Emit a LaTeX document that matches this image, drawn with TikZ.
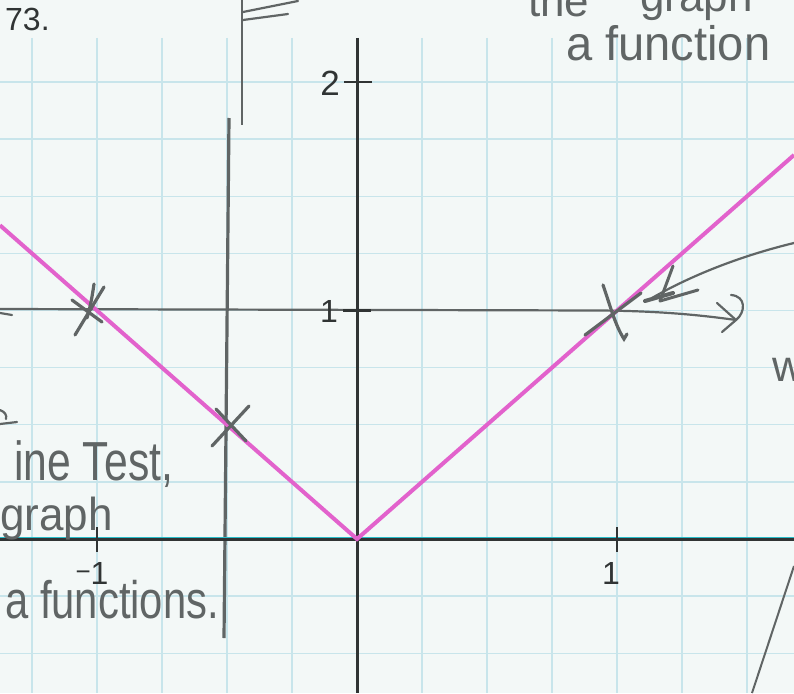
\documentclass[tikz,border=0pt]{standalone}
\usepackage{fontspec}
\setmainfont{Liberation Sans}
\usetikzlibrary{arrows.meta}
\definecolor{paper}{RGB}{243,248,247}
\definecolor{gridc}{RGB}{200,229,235}
\definecolor{pencil}{RGB}{96,101,101}
\definecolor{ink}{RGB}{48,52,52}
\definecolor{pinkc}{RGB}{226,98,204}
\definecolor{cyanl}{RGB}{40,188,200}
\begin{document}
\begin{tikzpicture}[x=1pt,y=-1pt,
  gridline/.style={gridc, line width=1.4pt},
  axisline/.style={ink, line width=3pt},
  tickline/.style={ink, line width=2.6pt},
  pencilline/.style={pencil, line width=2.2pt, line cap=round, line join=round},
  xmark/.style={pencil, line width=3.2pt, line cap=round},
  graphline/.style={pinkc, line width=4pt, line join=miter},
  axlabel/.style={ink, inner sep=0pt, font=\fontsize{35}{40}\selectfont},
  handw/.style={pencil, inner sep=0pt, font=\fontsize{44}{50}\selectfont}]
\useasboundingbox (0,0) rectangle (794,693);
\clip (0,0) rectangle (794,693);
\fill[paper] (0,0) rectangle (794,693);
% grid
\foreach \gx in {32,97,...,760} \draw[gridline] (\gx,38) -- (\gx,693);
\foreach \k in {0,...,10} \draw[gridline] (0,82+57.125*\k) -- (794,82+57.125*\k);
% pencil horizontal line y = 1 with arrow
\coordinate (hlS) at (0,309);
\coordinate (hlM) at (600,310.5);
\coordinate (hlE) at (736,320);
\draw[pencilline] (hlS) -- (hlM) .. controls (660,311) and (700,315) .. (hlE);
\draw[pencilline] (717,303) -- (hlE) .. controls (746,312) and (746,296) .. (731,295);
\draw[pencilline] (722,332) -- (hlE);
\draw[pencilline] (0,313) -- (12,315);
% arrow from the right edge to (1,1)
\coordinate (arS) at (794,243);
\coordinate (arE) at (652,298);
\draw[pencilline] (arS) .. controls (740,256) and (690,276) .. (arE);
\draw[pencil, line width=4pt, line cap=round] (645,301) -- (673,293);
\draw[pencilline, line width=3pt] (673,266) -- (660,301) -- (698,290);
% vertical line test line and flag line
\coordinate (vtT) at (229,118);
\coordinate (vtB) at (224,638);
\draw[pencil, line width=3.2pt] (vtT) -- (vtB);
\coordinate (flT) at (242,0);
\coordinate (flB) at (242,125);
\draw[pencil, line width=2.2pt] (flT) -- (flB);
\draw[pencilline] (243,12) -- (298,1);
\draw[pencilline] (243,20) -- (288,14);
% bottom-right stroke
\coordinate (brT) at (794,566);
\coordinate (brB) at (752,693);
\draw[pencil, line width=2pt] (brT) -- (brB);
% left-edge stroke
\draw[pencilline] (0,424) -- (17,422);
\draw[pencilline] (0,410) .. controls (5,412) and (7,415) .. (6,419);
% axes
\coordinate (xaL) at (0,539);
\coordinate (xaR) at (794,539);
\draw[axisline] (xaL) -- (xaR);
\draw[cyanl, line width=1.2pt] (0,537.2) -- (794,537.2);
\coordinate (yaT) at (357,38);
\coordinate (yaB) at (357,693);
\draw[axisline] (yaT) -- (yaB);
% ticks
\draw[tickline] (344,82) -- (372,82);
\draw[tickline] (343,310.5) -- (371,310.5);
\draw[tickline] (617,527) -- (617,552);
\draw[tickline] (97,527) -- (97,552);
% tick labels
\node[axlabel] (l2) at (330,83) {2};
\node[axlabel, font=\fontsize{32}{36}\selectfont] (l1y) at (329,311.5) {1};
\node[axlabel, font=\fontsize{32}{36}\selectfont] (l1x) at (611,573) {1};
\node[axlabel, font=\fontsize{32}{36}\selectfont] (lm1) at (92,573) {\raisebox{0.22ex}{\fontsize{26}{30}\selectfont −}1};
% graph y = |x|
\coordinate (gL) at (0,225.3);
\coordinate (gV) at (357,539);
\coordinate (gR) at (794,155);
\draw[graphline] (gL) -- (gV) -- (gR);
% X marks
\draw[xmark] (72,300) -- (102,322);
\draw[xmark] (104,287) -- (75,335);
\draw[xmark] (94,284) .. controls (92,298) and (90,308) .. (87,318);
\draw[xmark] (216,409) -- (246,441);
\draw[xmark] (212,446) -- (249,406);
\draw[xmark] (585,335) -- (641,293);
\draw[xmark] (603,285) .. controls (610,305) and (615,325) .. (624,339) -- (627,334);
% texts
\node[ink, inner sep=0pt, anchor=base west, font=\fontsize{32}{36}\selectfont] (num) at (5,31) {73.};
\node[handw, anchor=base west] (t1) at (14,480) {\scalebox{0.97}[1.25]{ine Test,}};
\node[handw, anchor=base west] (t2) at (0,530) {\scalebox{1}[1.05]{graph}};
\node[handw, anchor=base west] (t3) at (5,618) {\scalebox{0.95}[1.2]{a functions.}};
\node[handw, anchor=base west] (t4) at (528,17) {the};
\node[handw, anchor=base west] (t5) at (640,12) {graph};
\node[handw, anchor=base west] (t6) at (566,60) {\scalebox{1.07}[1.1]{a function}};
\node[handw, anchor=base west] (t7) at (772,381) {w};
\end{tikzpicture}
\end{document}
